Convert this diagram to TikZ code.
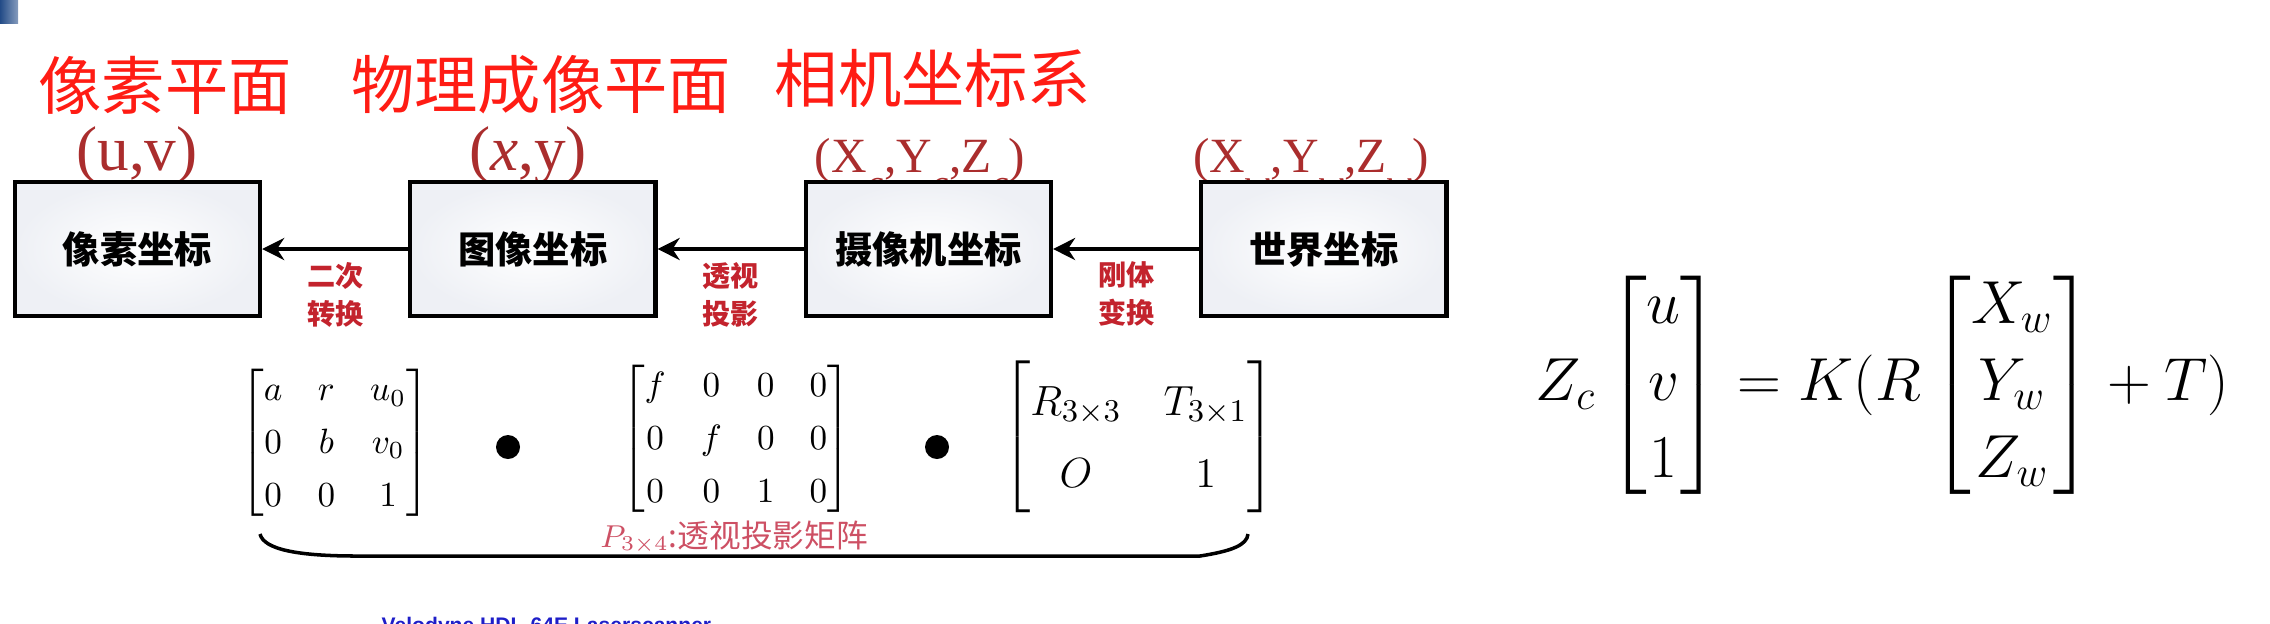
\documentclass[tikz,border=0pt]{standalone}
\usepackage{amsmath}
\usepackage{fontspec}
\newfontfamily\cjk{Noto Sans CJK SC}
\newfontfamily\tms{Liberation Serif}
\newfontfamily\arl{Liberation Sans}
\usetikzlibrary{positioning,arrows.meta}

\definecolor{titlered}{RGB}{255,28,20}
\definecolor{lblred}{RGB}{170,45,45}
\definecolor{steplblred}{RGB}{195,35,45}
\definecolor{pinkred}{RGB}{205,80,100}
\definecolor{slideblue}{RGB}{35,75,135}
\definecolor{velblue}{RGB}{30,30,200}
\definecolor{boxgray}{RGB}{238,240,245}

% subscript that sinks under the box top
\newcommand\lowsub[1]{\raisebox{-7pt}{\fontsize{11}{11}\selectfont\textit{#1}}}

\begin{document}
\begin{tikzpicture}[x=0.01cm,y=-0.01cm,>={Stealth[length=0.22cm,width=0.22cm]},
    planetitle/.style={text=titlered,inner sep=0,font=\cjk\fontsize{18}{20}\selectfont},
    coordbox/.style={draw,line width=1.2pt,minimum width=2.45cm,minimum height=1.34cm,
        inner color=white,outer color=boxgray,font=\cjk\bfseries\fontsize{10.6}{12}\selectfont},
    coordlbl/.style={anchor=base,inner sep=0,text=lblred,font=\tms\fontsize{18}{20}\selectfont},
    arr/.style={->,line width=1.4pt},
    translbl/.style={below=3pt,align=center,inner sep=0,text=steplblred,
        font=\cjk\bfseries\fontsize{8}{10.8}\selectfont},
    matnode/.style={inner sep=0,font=\fontsize{10}{12}\selectfont,
        execute at begin node={\def\arraystretch{1.25}}},
    dotmark/.style={circle,fill,inner sep=0,minimum size=0.24cm}]

    \useasboundingbox (0,0) rectangle (2270,623);
    \shade[left color=slideblue,right color=slideblue!55] (0,0) rectangle (18,23);

    \node[planetitle] (t1) at (165,85) {像素平面};
    \node[planetitle] (t2) at (541,85) {物理成像平面};
    \node[planetitle] (t3) at (933,78) {相机坐标系};

    % labels first, the boxes hide the subscripts
    \node[coordlbl] (l1) at (137,170) {(u,v)};
    \node[coordlbl] (l2) at (528,170) {(\textit{x},y)};
    \node[coordlbl,font=\tms\fontsize{14}{16}\selectfont] (l3) at (920,172)
        {(X\lowsub{c},Y\lowsub{c},Z\lowsub{c})};
    \node[coordlbl,font=\tms\fontsize{14}{16}\selectfont] (l4) at (1311,172)
        {(X\lowsub{w},Y\lowsub{w},Z\lowsub{w})};

    \node[coordbox] (b1) at (137.5,249) {像素坐标};
    \node[coordbox,right=1.46cm of b1] (b2) {图像坐标};
    \node[coordbox,right=1.46cm of b2] (b3) {摄像机坐标};
    \node[coordbox,right=1.46cm of b3] (b4) {世界坐标};

    \path
    (b2) edge[arr] node[translbl]{二次\\转换} (b1)
    (b3) edge[arr] node[translbl]{透视\\投影} (b2)
    (b4) edge[arr] node[translbl]{刚体\\变换} (b3);

    \node[matnode] (m1) at (335,443)
        {$\begin{bmatrix} a & r & u_0\\ 0 & b & v_0\\ 0 & 0 & 1 \end{bmatrix}$};
    \node[dotmark] (d1) at (508,447) {};
    \node[matnode] (m2) at (736,439)
        {$\begin{bmatrix} f & 0 & 0 & 0\\ 0 & f & 0 & 0\\ 0 & 0 & 1 & 0 \end{bmatrix}$};
    \node[dotmark] (d2) at (937,447) {};
    \node[matnode,font=\fontsize{12.5}{15}\selectfont,
        execute at begin node={\def\arraystretch{1.37}\setlength\arraycolsep{6pt}}] (m3) at (1139,437)
        {$\begin{bmatrix} R_{3\times3} & T_{3\times1}\\ O & 1 \end{bmatrix}$};

    %\node[below of=m2] (ph) {};
    \draw[line width=1pt] (260,534) .. controls (264,550) and (300,556) .. (357,556)
        -- (1200,556) .. controls (1232,551) and (1247,545) .. (1248,534);
    \node[inner sep=0,text=pinkred,font=\cjk\fontsize{9}{11}\selectfont] (p) at (734,537)
        {$P_{3\times4}$:透视投影矩阵};

    \node[anchor=west,inner sep=0,font=\fontsize{16.5}{20}\selectfont,
        execute at begin node={\def\arraystretch{1.1}}] (eq) at (1535,385)
        {$Z_c\begin{bmatrix}u\\ v\\ 1\end{bmatrix}=K(R\begin{bmatrix}X_w\\ Y_w\\ Z_w\end{bmatrix}+T)$};

    \node[anchor=base west,inner sep=0,text=velblue,font=\arl\bfseries\fontsize{6}{7}\selectfont]
        (vel) at (381,632) {Velodyne HDL-64E Laserscanner};
\end{tikzpicture}
\end{document}
